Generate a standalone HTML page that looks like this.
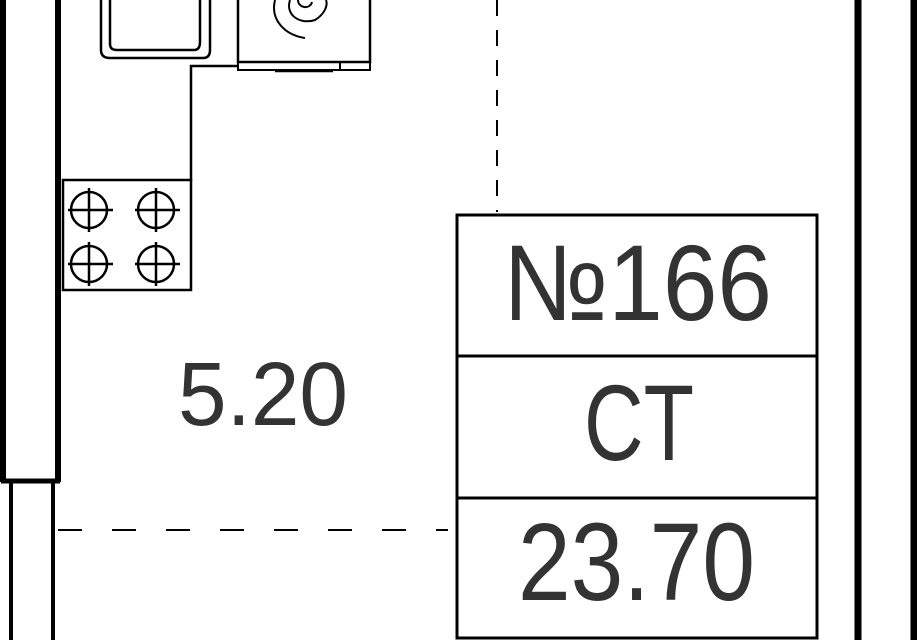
<!DOCTYPE html>
<html><head><meta charset="utf-8"><style>
html,body{margin:0;padding:0;background:#fff;}
svg{display:block;}
text{font-family:"Liberation Sans",sans-serif;fill:#333;}
</style></head><body>
<svg width="917" height="640" viewBox="0 0 917 640" xmlns="http://www.w3.org/2000/svg">
<g fill="none" stroke="#000">
<!-- walls -->
<line x1="3" y1="0" x2="3" y2="482" stroke-width="6"/>
<line x1="58" y1="0" x2="58" y2="482" stroke-width="6"/>
<line x1="1" y1="481" x2="60" y2="481" stroke-width="5"/>
<line x1="11" y1="482" x2="11" y2="640" stroke-width="4"/>
<line x1="53" y1="482" x2="53" y2="640" stroke-width="4"/>
<line x1="858" y1="0" x2="858" y2="640" stroke-width="7"/>
<line x1="914" y1="0" x2="914" y2="640" stroke-width="7"/>
<!-- dashed -->
<line x1="497" y1="0" x2="497" y2="212" stroke-width="2" stroke-dasharray="16,14"/>
<line x1="58" y1="530" x2="448" y2="530" stroke-width="2" stroke-dasharray="24,30"/>
<!-- sink -->
<path d="M101 0 V50 Q101 58 110 58 H203 Q210 58 210 50 V0" stroke-width="2.5"/>
<path d="M110 0 V44 Q110 50 117 50 H194 Q200 50 200 42 V0" stroke-width="2.5"/>
<!-- oven -->
<rect x="238" y="-2" width="132" height="64" stroke-width="2.5"/>
<rect x="238" y="62" width="132" height="8" stroke-width="2"/>
<line x1="340" y1="62" x2="340" y2="70" stroke-width="2"/>
<line x1="275" y1="71" x2="333" y2="71" stroke-width="2.5"/>
<path d="M305 38 C285 35 270 20 275 0 M290 0 C285 15 300 25 315 20 C325 14 328 5 326 0 M298 0 C298 8 310 10 312 2" stroke-width="2"/>
<!-- counter -->
<polyline points="237,66 191,66 191,181" stroke-width="2.5"/>
<rect x="63" y="180" width="128" height="110" stroke-width="2.5"/>
<g stroke-width="2.5">
<circle cx="89" cy="210" r="18"/><line x1="68" y1="210" x2="113" y2="210"/><line x1="89" y1="188" x2="89" y2="232"/>
<circle cx="156" cy="210" r="18"/><line x1="135" y1="210" x2="180" y2="210"/><line x1="156" y1="188" x2="156" y2="232"/>
<circle cx="89" cy="264" r="18"/><line x1="68" y1="264" x2="113" y2="264"/><line x1="89" y1="242" x2="89" y2="286"/>
<circle cx="156" cy="264" r="18"/><line x1="135" y1="264" x2="180" y2="264"/><line x1="156" y1="242" x2="156" y2="286"/>
</g>
<!-- label box -->
<rect x="457" y="215" width="360" height="423" stroke-width="3"/>
<line x1="457" y1="356" x2="817" y2="356" stroke-width="3"/>
<line x1="457" y1="498" x2="817" y2="498" stroke-width="3"/>
</g>
<text x="178" y="425" font-size="90" textLength="170" lengthAdjust="spacingAndGlyphs">5.20</text>
<text x="503" y="320" font-size="108" textLength="269" lengthAdjust="spacingAndGlyphs">№166</text>
<text x="584" y="460" font-size="108" textLength="110" lengthAdjust="spacingAndGlyphs">CT</text>
<text x="518" y="600" font-size="110" textLength="237" lengthAdjust="spacingAndGlyphs">23.70</text>
</svg>
</body></html>
